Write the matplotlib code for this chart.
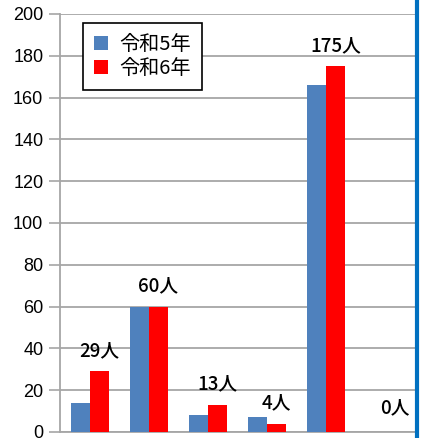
import matplotlib
matplotlib.use("Agg")
import matplotlib.pyplot as plt
import numpy as np

plt.rcParams['font.family'] = ['Noto Sans CJK JP', 'DejaVu Sans']

categories = ['A', 'B', 'C', 'D', 'E', 'F']
r5_values = [14, 60, 8, 7, 166, 0]
r6_values = [29, 60, 13, 4, 175, 0]
r6_labels = ['29人', '60人', '13人', '4人', '175人', '0人']
series_names = ['令和5年', '令和6年']

BLUE = '#4f81bd'
RED = '#ff0000'
GRID = '#a6a6a6'

fig = plt.figure(figsize=(4.21, 4.38), dpi=100)
ax = fig.add_axes([60 / 421, 1 - 432 / 438, 355 / 421, 418 / 438])

x = np.arange(len(categories))
w = 0.32
ax.bar(x - w / 2, r5_values, w, color=BLUE, label=series_names[0], zorder=3)
ax.bar(x + w / 2, r6_values, w, color=RED, label=series_names[1], zorder=3)

# labels above the 令和6年 bars
for xi, v, lab in zip(x, r6_values, r6_labels):
    off = 11.5 if v == 0 else 10
    ax.text(xi + w / 2, v + off, lab, ha='center', va='center',
            fontsize=13.5, color='black', fontweight='medium')

ax.set_xlim(-0.5, len(categories) - 0.5)
ax.set_ylim(0, 200)
ax.set_yticks(range(0, 201, 20))
ax.set_xticks([])
ax.tick_params(axis='y', length=8, width=1.2, color=GRID, pad=4,
               labelsize=13, labelfontfamily='Liberation Sans')
ax.grid(axis='y', color=GRID, linewidth=1.3, zorder=0)
for s in ['top', 'right']:
    ax.spines[s].set_visible(False)
ax.spines['left'].set_color(GRID)
ax.spines['left'].set_linewidth(1.3)
ax.spines['bottom'].set_color(GRID)
ax.spines['bottom'].set_linewidth(1.3)

leg = ax.legend(loc='upper left', bbox_to_anchor=(23 / 355, 1 - 9 / 418),
                borderaxespad=0, fontsize=14.5, frameon=True, fancybox=False,
                edgecolor='black', framealpha=1,
                handlelength=0.7, handleheight=0.7, handletextpad=0.55,
                labelspacing=0.15, borderpad=0.55)
leg.get_frame().set_linewidth(1.2)

# blue border at right edge
fig.add_artist(plt.Line2D([416.5 / 421, 416.5 / 421], [0, 1], color='#0070c0',
                          linewidth=3, transform=fig.transFigure))

fig.savefig('out.png', dpi=100)
